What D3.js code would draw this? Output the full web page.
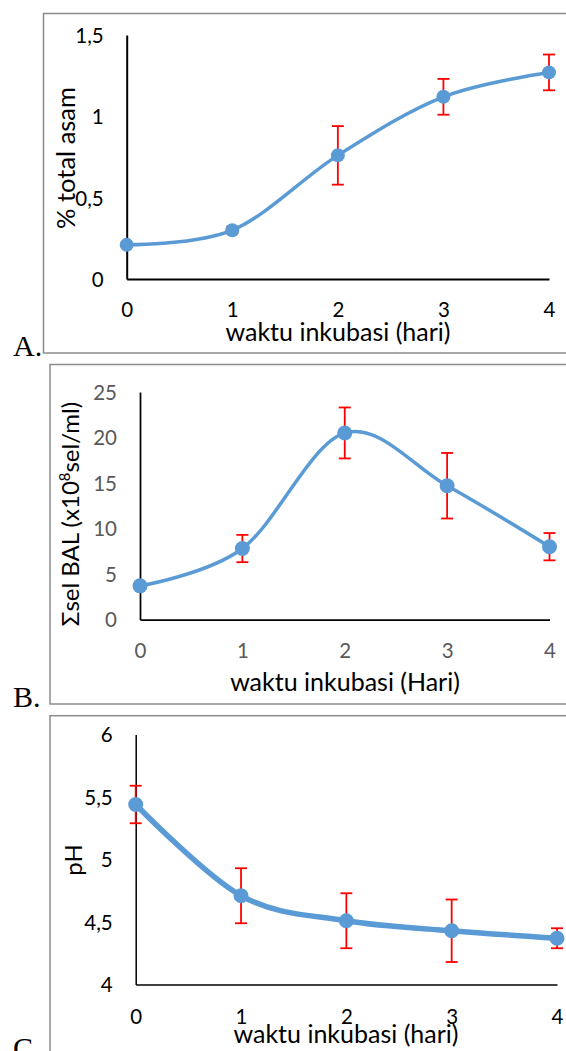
<!DOCTYPE html>
<html><head><meta charset="utf-8">
<script src="https://cdn.jsdelivr.net/npm/d3@7"></script>
<style>
html,body{margin:0;padding:0;background:#fff;}
svg{display:block;}
</style></head>
<body>
<svg id="chart" width="566" height="1051"></svg>
<script>
// ---------- data ----------
const days = [0, 1, 2, 3, 4];

const totalAsam    = [0.21, 0.30, 0.76, 1.12, 1.27];
const totalAsamErr = [0.01, 0.02, 0.18, 0.11, 0.11];

const selBAL    = [3.7, 7.8, 20.5, 14.7, 8.0];
const selBALErr = [0.3, 1.5, 2.8, 3.6, 1.5];

const pH    = [5.44, 4.71, 4.51, 4.43, 4.37];
const pHErr = [0.15, 0.22, 0.22, 0.25, 0.08];

const xTicks = [0, 1, 2, 3, 4];
const ticksA = [0, 0.5, 1, 1.5];
const ticksB = [0, 5, 10, 15, 20, 25];
const ticksC = [4, 4.5, 5, 5.5, 6];

const panelLabels = ["A.", "B.", "C."];
const xTitles = ["waktu inkubasi (hari)", "waktu inkubasi (Hari)", "waktu inkubasi (hari)"];

// ---------- drawing ----------
const svg = d3.select("#chart");
const FONT = "Lato, 'Open Sans', sans-serif";
const fmt = d => String(d).replace(".", ",");

function panel(cfg) {
  const g = svg.append("g");
  // frame
  g.append("rect")
    .attr("x", cfg.frame[0]).attr("y", cfg.frame[1])
    .attr("width", cfg.frame[2] - cfg.frame[0]).attr("height", cfg.frame[3] - cfg.frame[1])
    .attr("fill", "none").attr("stroke", "#8c8c8c").attr("stroke-width", 1.5);

  const x = d3.scaleLinear().domain([0, 4]).range([cfg.x0, cfg.x1]);
  const y = d3.scaleLinear().domain(cfg.yDomain).range([cfg.yBottom, cfg.yTop]);

  // axes
  const ya = g.append("g").attr("transform", `translate(${cfg.x0},0)`)
    .call(d3.axisLeft(y).tickValues(cfg.yTicks).tickSize(0).tickPadding(cfg.yPad).tickFormat(fmt));
  const xa = g.append("g").attr("transform", `translate(0,${cfg.yBottom})`)
    .call(d3.axisBottom(x).tickValues(xTicks).tickSize(0).tickFormat(fmt));
  [ya, xa].forEach(a => {
    a.select(".domain").attr("stroke", "#000").attr("stroke-width", cfg.axisW);
    a.selectAll("text").attr("font-family", FONT).attr("font-size", cfg.tickFs)
      .attr("fill", cfg.tickColor);
  });
  ya.selectAll("text").attr("dy", "0.36em");
  xa.selectAll("text").attr("y", cfg.xPad).attr("dy", "0.36em");

  // error bars
  const eb = g.append("g").attr("stroke", "#ff0000").attr("stroke-width", 1.8);
  days.forEach((d, i) => {
    const v = cfg.values[i], e = cfg.errs[i];
    const cx = x(d), yt = y(v + e), yb = y(v - e);
    eb.append("line").attr("x1", cx).attr("x2", cx).attr("y1", yt).attr("y2", yb);
    eb.append("line").attr("x1", cx - 6).attr("x2", cx + 6).attr("y1", yt).attr("y2", yt);
    eb.append("line").attr("x1", cx - 6).attr("x2", cx + 6).attr("y1", yb).attr("y2", yb);
  });

  // line
  const line = d3.line().x((d, i) => x(days[i])).y(d => y(d)).curve(d3.curveCardinal.tension(0));
  g.append("path").datum(cfg.values).attr("d", line)
    .attr("fill", "none").attr("stroke", "#5b9bd5").attr("stroke-width", cfg.lineW)
    .attr("stroke-linejoin", "round");

  // markers
  g.selectAll("circle.m").data(cfg.values).enter().append("circle")
    .attr("cx", (d, i) => x(days[i])).attr("cy", d => y(d)).attr("r", cfg.r)
    .attr("fill", "#5b9bd5");

  // x title
  g.append("text").attr("x", cfg.xTitle[0]).attr("y", cfg.xTitle[1])
    .attr("text-anchor", "middle").attr("font-family", FONT).attr("font-size", cfg.titleFs)
    .attr("fill", "#000").text(cfg.xTitleText);

  // y title
  const yt = g.append("text")
    .attr("transform", `translate(${cfg.yTitle[0]},${cfg.yTitle[1]}) rotate(-90)`)
    .attr("text-anchor", "middle").attr("dy", "0.35em")
    .attr("font-family", FONT).attr("font-size", cfg.yTitleFs).attr("fill", "#000");
  cfg.yTitleParts.forEach(p => {
    const t = yt.append("tspan").text(p.t);
    if (p.sup) t.attr("baseline-shift", "super").attr("font-size", cfg.yTitleFs * 0.62);
  });

  // panel label
  g.append("text").attr("x", 13).attr("y", cfg.labelY)
    .attr("font-family", "'Liberation Serif', 'Times New Roman', serif")
    .attr("font-size", 30).attr("fill", "#000").text(cfg.label);
}

panel({
  frame: [43.5, 13.5, 572, 353],
  x0: 126.7, x1: 549, yTop: 35, yBottom: 279, yDomain: [0, 1.5], yTicks: ticksA,
  values: totalAsam, errs: totalAsamErr,
  tickColor: "#000", tickFs: 20.5, titleFs: 25, yTitleFs: 25.5, yPad: 23, xPad: 31,
  axisW: 2, lineW: 3.5, r: 7,
  xTitle: [338, 341], xTitleText: xTitles[0],
  yTitle: [66, 158], yTitleParts: [{t: "% total asam"}],
  label: panelLabels[0], labelY: 356
});

panel({
  frame: [50, 364.5, 572, 704],
  x0: 140, x1: 549.5, yTop: 392, yBottom: 619.5, yDomain: [0, 25], yTicks: ticksB,
  values: selBAL, errs: selBALErr,
  tickColor: "#595959", tickFs: 20.5, titleFs: 25, yTitleFs: 24, yPad: 23, xPad: 31.5,
  axisW: 1.75, lineW: 3.5, r: 7.5,
  xTitle: [345, 691], xTitleText: xTitles[1],
  yTitle: [71, 514], yTitleParts: [{t: "Σsel BAL (x10"}, {t: "8", sup: true}, {t: "sel/ml)"}],
  label: panelLabels[1], labelY: 707
});

panel({
  frame: [50, 715.7, 572, 1100],
  x0: 135.7, x1: 557, yTop: 734.5, yBottom: 984.5, yDomain: [4, 6], yTicks: ticksC,
  values: pH, errs: pHErr,
  tickColor: "#000", tickFs: 20.5, titleFs: 25, yTitleFs: 24, yPad: 23, xPad: 32,
  axisW: 1.5, lineW: 5.5, r: 7.5,
  xTitle: [346, 1043], xTitleText: xTitles[2],
  yTitle: [74, 860], yTitleParts: [{t: "pH"}],
  label: panelLabels[2], labelY: 1058
});
</script>
</body></html>
